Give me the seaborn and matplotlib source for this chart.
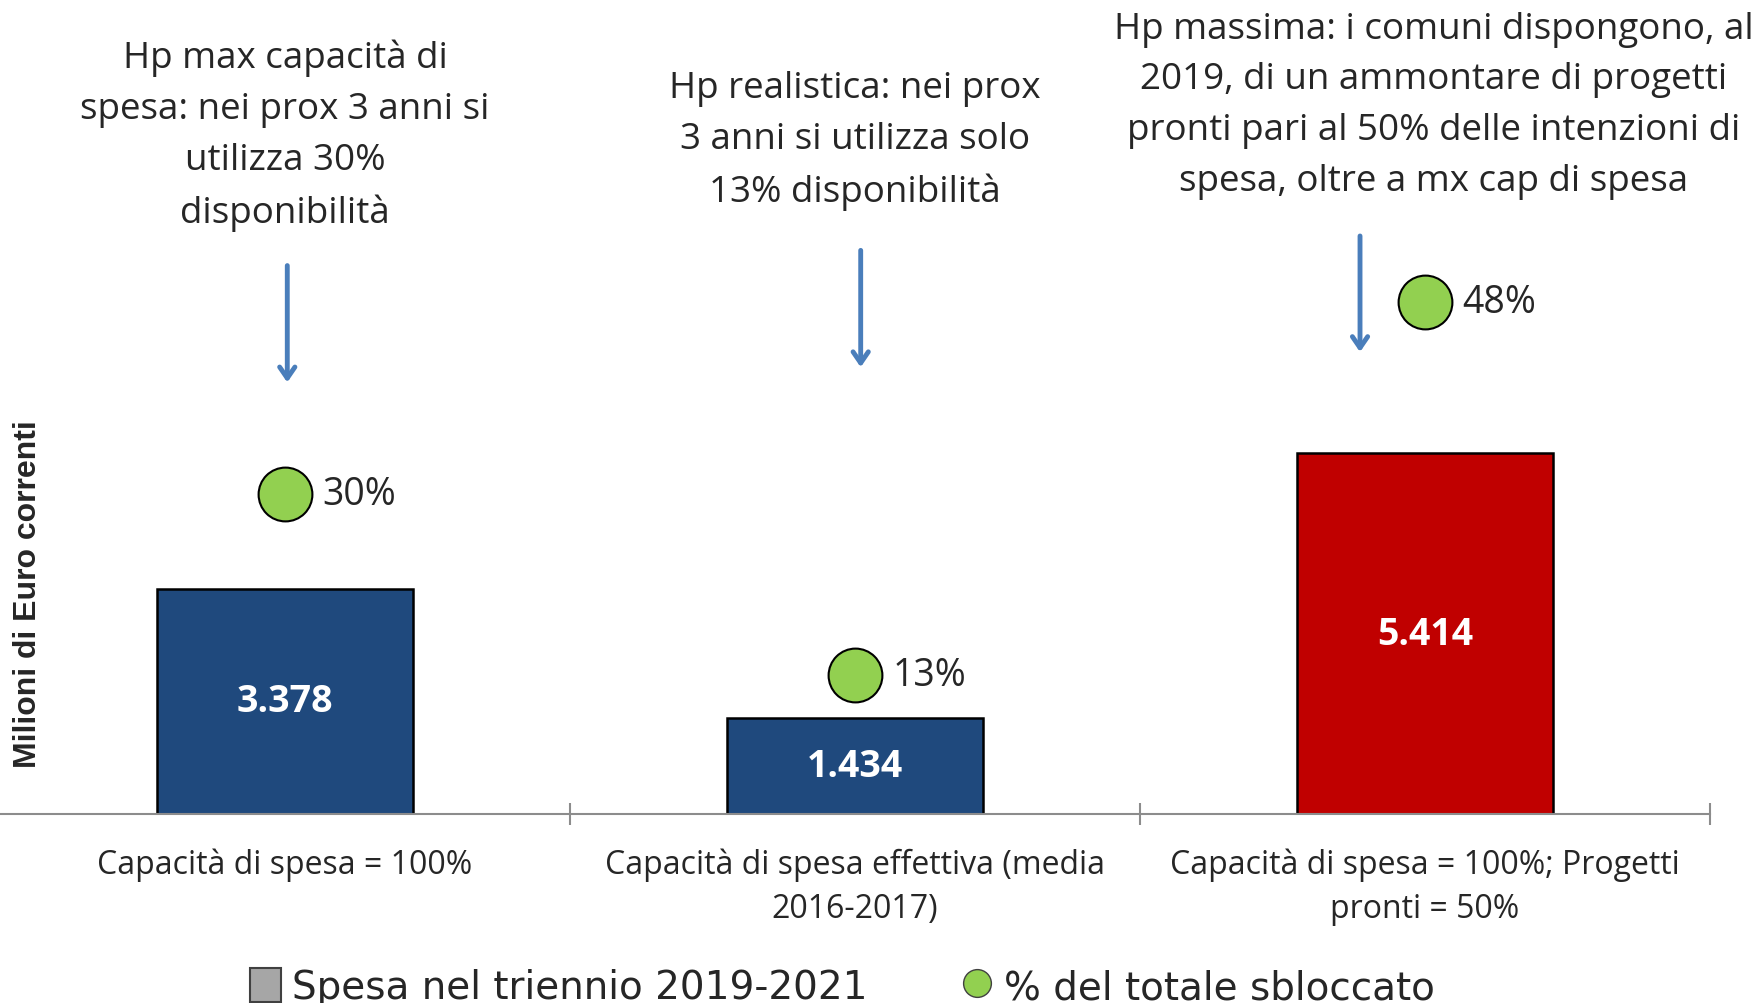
import matplotlib
matplotlib.use("Agg")
import matplotlib.pyplot as plt
import seaborn as sns
import pandas as pd
from matplotlib.patches import Patch
from matplotlib.lines import Line2D

# data
categories = ["Capacità di spesa = 100%",
              "Capacità di spesa effettiva (media\n2016-2017)",
              "Capacità di spesa = 100%; Progetti\npronti = 50%"]
spesa = [3378, 1434, 5414]
bar_labels = ["3.378", "1.434", "5.414"]
pct_sbloccato = [30, 13, 48]
pct_labels = ["30%", "13%", "48%"]
hp_texts = ["Hp max capacità di\nspesa: nei prox 3 anni si\nutilizza 30%\ndisponibilità",
            "Hp realistica: nei prox\n3 anni si utilizza solo\n13% disponibilità",
            "Hp massima: i comuni dispongono, al\n2019, di un ammontare di progetti\npronti pari al 50% delle intenzioni di\nspesa, oltre a mx cap di spesa"]
bar_colors = ["#1F497D", "#1F497D", "#C00000"]

df = pd.DataFrame({"Scenario": categories, "Spesa": spesa, "Pct": pct_sbloccato})

sns.set_style("white")
plt.rcParams["font.family"] = ["Open Sans", "DejaVu Sans"]

fig = plt.figure(figsize=(17.62, 10.04), dpi=100)
ax = fig.add_axes([0.0, 1 - 815 / 1004, 1710 / 1762, 800 / 1004])

sns.barplot(data=df, x="Scenario", y="Spesa", hue="Scenario", palette=bar_colors,
            saturation=1, dodge=False, width=0.45, edgecolor="black", linewidth=1.8,
            legend=False, ax=ax)
ax.set_ylim(0, 12000)
ax.set_xlim(-0.5, 2.5)

for cont, lab in zip(ax.containers, bar_labels):
    ax.bar_label(cont, labels=[lab], label_type="center", color="white",
                 fontsize=27, fontweight="bold")

# axis styling
for s in ["left", "top", "right"]:
    ax.spines[s].set_visible(False)
ax.spines["bottom"].set_color("#8C8C8C")
ax.spines["bottom"].set_linewidth(1.5)
ax.set_yticks([])
ax.set_xticks([0.5, 1.5, 2.5])
ax.set_xticklabels([])
ax.tick_params(axis="x", which="major", bottom=True, direction="inout", length=16,
               width=1.5, color="#8C8C8C")
ax.set_xticks([0, 1, 2], minor=True)
ax.set_xticklabels(categories, minor=True, fontsize=23, linespacing=1.45)
ax.tick_params(axis="x", which="minor", bottom=True, length=0, pad=24)
ax.set_xlabel("")
ax.set_ylabel("")
ax.text(0.0164, 0.276, "Milioni di Euro correnti", transform=ax.transAxes,
        rotation=90, ha="center", va="center", fontsize=23, fontweight="bold",
        family=["Liberation Sans", "DejaVu Sans"])

# secondary axis: % del totale sbloccato
ax2 = ax.twinx()
sns.scatterplot(data=df, x="Scenario", y="Pct", s=1500, color="#92D050",
                edgecolor="black", linewidth=1.5, ax=ax2, zorder=5)
ax2.set_ylim(0, 75)
ax2.set_xlim(-0.5, 2.5)
ax2.axis("off")
for i, (v, lab) in enumerate(zip(pct_sbloccato, pct_labels)):
    ax2.annotate(lab, xy=(i, v), xytext=(27, 0), textcoords="offset points",
                 ha="left", va="center", fontsize=27)

# hypothesis texts and arrows
trans = ax.get_xaxis_transform()
text_y = [0.849, 0.842, 0.8865]
text_x = [0, 0, 0.015]
arrow_x = [0.004, 0.01, -0.114]
arrow_tail = [0.689, 0.708, 0.726]
arrow_tip = [0.536, 0.555, 0.574]
for i, t in enumerate(hp_texts):
    ax.text(i + text_x[i], text_y[i], t, transform=trans, ha="center", va="center",
            fontsize=26.5, linespacing=1.55)
    ax.annotate("", xy=(i + arrow_x[i], arrow_tip[i]),
                xytext=(i + arrow_x[i], arrow_tail[i]),
                xycoords=trans, textcoords=trans,
                arrowprops=dict(arrowstyle="->,head_length=0.8,head_width=0.55",
                                color="#4A7EBB", lw=3.5))

# legend
handles = [Patch(facecolor="#A6A6A6", edgecolor="#404040", linewidth=1.5),
           Line2D([], [], marker="o", linestyle="", markersize=20,
                  markerfacecolor="#92D050", markeredgecolor="#404040")]
fig.legend(handles, ["Spesa nel triennio 2019-2021", "% del totale sbloccato"],
           loc="center", bbox_to_anchor=(0.478, 0.016), ncol=2, frameon=False,
           prop={"family": ["Liberation Sans Narrow", "DejaVu Sans"], "size": 28},
           handlelength=0.8, handleheight=1.0, handletextpad=0.3, columnspacing=2.4)

fig.savefig("out.png", dpi=100)
